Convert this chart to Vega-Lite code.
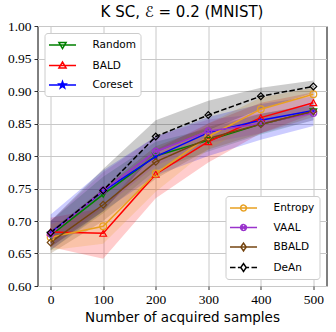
{
  "$schema": "https://vega.github.io/schema/vega-lite/v6.json",
  "width": 289,
  "height": 260,
  "autosize": "none",
  "padding": {"left": 37.5, "top": 26, "right": 9.5, "bottom": 46},
  "title": {"text": "K SC, ℰ = 0.2 (MNIST)", "font": "DejaVu Sans", "fontSize": 15, "fontWeight": "normal", "color": "black", "offset": -1},
  "config": {
    "view": {"stroke": "black", "strokeWidth": 1},
    "axis": {
      "domain": false,
      "labelFont": "Liberation Serif",
      "labelFontSize": 13.5,
      "labelColor": "black",
      "labelPadding": 3,
      "tickColor": "black",
      "tickSize": 3.5,
      "tickWidth": 0.8,
      "gridColor": "#c8c8c8",
      "gridWidth": 1,
      "titleFont": "DejaVu Sans",
      "titleFontSize": 13.5,
      "titleFontWeight": "normal",
      "titleColor": "black",
      "titlePadding": 4
    },
    "legend": {
      "title": null,
      "offset": 7,
      "padding": 4.5,
      "fillColor": "white",
      "strokeColor": "#cccccc",
      "cornerRadius": 3,
      "labelFont": "DejaVu Sans",
      "labelFontSize": 10.5,
      "labelColor": "black",
      "symbolSize": 169,
      "symbolStrokeWidth": 1.5,
      "symbolFillColor": "transparent",
      "symbolOffset": 6,
      "labelOffset": 22.5,
      "rowPadding": 5.5
    }
  },
  "data": {
    "values": [
      {"m": "Random", "x": 0, "y": 0.678, "lo": 0.655, "hi": 0.700},
      {"m": "Random", "x": 100, "y": 0.741, "lo": 0.712, "hi": 0.768},
      {"m": "Random", "x": 200, "y": 0.800, "lo": 0.778, "hi": 0.822},
      {"m": "Random", "x": 300, "y": 0.824, "lo": 0.807, "hi": 0.842},
      {"m": "Random", "x": 400, "y": 0.849, "lo": 0.833, "hi": 0.865},
      {"m": "Random", "x": 500, "y": 0.868, "lo": 0.855, "hi": 0.880},
      {"m": "BALD", "x": 0, "y": 0.683, "lo": 0.660, "hi": 0.705},
      {"m": "BALD", "x": 100, "y": 0.681, "lo": 0.642, "hi": 0.720},
      {"m": "BALD", "x": 200, "y": 0.772, "lo": 0.735, "hi": 0.810},
      {"m": "BALD", "x": 300, "y": 0.822, "lo": 0.790, "hi": 0.850},
      {"m": "BALD", "x": 400, "y": 0.859, "lo": 0.835, "hi": 0.882},
      {"m": "BALD", "x": 500, "y": 0.882, "lo": 0.865, "hi": 0.898},
      {"m": "Coreset", "x": 0, "y": 0.682, "lo": 0.655, "hi": 0.710},
      {"m": "Coreset", "x": 100, "y": 0.746, "lo": 0.715, "hi": 0.778},
      {"m": "Coreset", "x": 200, "y": 0.799, "lo": 0.770, "hi": 0.830},
      {"m": "Coreset", "x": 300, "y": 0.836, "lo": 0.800, "hi": 0.860},
      {"m": "Coreset", "x": 400, "y": 0.855, "lo": 0.825, "hi": 0.880},
      {"m": "Coreset", "x": 500, "y": 0.870, "lo": 0.846, "hi": 0.892},
      {"m": "Entropy", "x": 0, "y": 0.675, "lo": 0.655, "hi": 0.695},
      {"m": "Entropy", "x": 100, "y": 0.692, "lo": 0.665, "hi": 0.720},
      {"m": "Entropy", "x": 200, "y": 0.773, "lo": 0.745, "hi": 0.800},
      {"m": "Entropy", "x": 300, "y": 0.830, "lo": 0.810, "hi": 0.850},
      {"m": "Entropy", "x": 400, "y": 0.872, "lo": 0.855, "hi": 0.890},
      {"m": "Entropy", "x": 500, "y": 0.895, "lo": 0.885, "hi": 0.905},
      {"m": "VAAL", "x": 0, "y": 0.680, "lo": 0.660, "hi": 0.700},
      {"m": "VAAL", "x": 100, "y": 0.747, "lo": 0.720, "hi": 0.775},
      {"m": "VAAL", "x": 200, "y": 0.807, "lo": 0.785, "hi": 0.830},
      {"m": "VAAL", "x": 300, "y": 0.838, "lo": 0.820, "hi": 0.856},
      {"m": "VAAL", "x": 400, "y": 0.850, "lo": 0.835, "hi": 0.865},
      {"m": "VAAL", "x": 500, "y": 0.866, "lo": 0.855, "hi": 0.878},
      {"m": "BBALD", "x": 0, "y": 0.667, "lo": 0.650, "hi": 0.685},
      {"m": "BBALD", "x": 100, "y": 0.725, "lo": 0.700, "hi": 0.750},
      {"m": "BBALD", "x": 200, "y": 0.791, "lo": 0.765, "hi": 0.815},
      {"m": "BBALD", "x": 300, "y": 0.827, "lo": 0.810, "hi": 0.845},
      {"m": "BBALD", "x": 400, "y": 0.849, "lo": 0.835, "hi": 0.865},
      {"m": "BBALD", "x": 500, "y": 0.869, "lo": 0.860, "hi": 0.878},
      {"m": "DeAn", "x": 0, "y": 0.682, "lo": 0.660, "hi": 0.700},
      {"m": "DeAn", "x": 100, "y": 0.747, "lo": 0.715, "hi": 0.780},
      {"m": "DeAn", "x": 200, "y": 0.830, "lo": 0.805, "hi": 0.855},
      {"m": "DeAn", "x": 300, "y": 0.863, "lo": 0.840, "hi": 0.885},
      {"m": "DeAn", "x": 400, "y": 0.892, "lo": 0.872, "hi": 0.905},
      {"m": "DeAn", "x": 500, "y": 0.907, "lo": 0.897, "hi": 0.916}
    ]
  },
  "encoding": {
    "x": {"field": "x", "type": "quantitative", "scale": {"domain": [-25, 525], "nice": false, "zero": false}, "axis": {"values": [0, 100, 200, 300, 400, 500], "title": "Number of acquired samples"}},
    "y": {"field": "y", "type": "quantitative", "scale": {"domain": [0.6, 1.0], "nice": false, "zero": false}, "axis": {"values": [0.6, 0.65, 0.7, 0.75, 0.8, 0.85, 0.9, 0.95, 1.0], "format": ".2f", "title": null}}
  },
  "layer": [
    {
      "mark": {"type": "area", "opacity": 0.2},
      "encoding": {
        "y": {"field": "lo", "type": "quantitative"},
        "y2": {"field": "hi"},
        "fill": {"field": "m", "type": "nominal", "scale": {"domain": ["Random", "BALD", "Coreset", "Entropy", "VAAL", "BBALD", "DeAn"], "range": ["#008000", "#ff0000", "#0000ff", "#e8a020", "#9932cc", "#74440f", "#000000"]}, "legend": null}
      }
    },
    {
      "transform": [{"filter": {"field": "m", "oneOf": ["Random", "BALD", "Coreset"]}}],
      "mark": {"type": "line", "strokeWidth": 1.5},
      "encoding": {
        "color": {"field": "m", "type": "nominal", "scale": {"domain": ["Random", "BALD", "Coreset"], "range": ["#008000", "#ff0000", "#0000ff"]},
          "legend": {"orient": "top-left", "encode": {"symbols": {"update": {
            "shape": {"signal": "datum.value==='Random' ? 'M-2.08,0H2.08M-0.55,-0.4H0.55L0,0.55Z' : datum.value==='BALD' ? 'M-2.08,0H2.08M-0.55,0.4H0.55L0,-0.55Z' : 'M-2.08,0H2.08M0,-0.55L0.129,-0.178L0.523,-0.17L0.209,0.068L0.323,0.445L0,0.22L-0.323,0.445L-0.209,0.068L-0.523,-0.17L-0.129,-0.178Z'"},
            "fill": {"signal": "datum.value==='Coreset' ? '#0000ff' : 'transparent'"},
            "stroke": {"scale": "color", "field": "value"},
            "strokeWidth": {"value": 1.5},
            "opacity": {"value": 1},
            "fillOpacity": {"value": 1},
            "strokeOpacity": {"value": 1}
          }}}}
        }
      }
    },
    {
      "transform": [{"filter": {"field": "m", "oneOf": ["Entropy", "VAAL", "BBALD"]}}],
      "mark": {"type": "line", "strokeWidth": 1.5},
      "encoding": {
        "stroke": {"field": "m", "type": "nominal", "scale": {"domain": ["Entropy", "VAAL", "BBALD", "DeAn"], "range": ["#e8a020", "#9932cc", "#74440f", "#000000"]},
          "legend": {"orient": "bottom-right", "encode": {"symbols": {"update": {
            "shape": {"signal": "datum.value==='Entropy' ? 'M-2.08,0H2.08M0.45,0A0.45,0.45,0,1,1,-0.45,0A0.45,0.45,0,1,1,0.45,0Z' : datum.value==='VAAL' ? 'M-2.08,0H2.08M0.45,0A0.45,0.45,0,1,1,-0.45,0A0.45,0.45,0,1,1,0.45,0ZM-0.32,-0.32L0.32,0.32M-0.32,0.32L0.32,-0.32' : datum.value==='BBALD' ? 'M-2.08,0H2.08M0,-0.6L0.42,0L0,0.6L-0.42,0Z' : 'M-2.08,0H-1.23M-0.86,0H-0.42M0.42,0H0.86M1.23,0H2.08M0,-0.6L0.42,0L0,0.6L-0.42,0Z'"},
            "fill": {"value": "transparent"},
            "stroke": {"scale": "stroke", "field": "value"},
            "strokeWidth": {"value": 1.5},
            "strokeDash": {"value": [1, 0]},
            "opacity": {"value": 1},
            "strokeOpacity": {"value": 1}
          }}}}
        }
      }
    },
    {
      "transform": [{"filter": {"field": "m", "equal": "DeAn"}}],
      "mark": {"type": "line", "strokeWidth": 1.5, "strokeDash": [5.5, 2.4]},
      "encoding": {
        "stroke": {"field": "m", "type": "nominal", "scale": {"domain": ["Entropy", "VAAL", "BBALD", "DeAn"], "range": ["#e8a020", "#9932cc", "#74440f", "#000000"]},
          "legend": {"orient": "bottom-right", "encode": {"symbols": {"update": {
            "shape": {"signal": "datum.value==='Entropy' ? 'M-2.08,0H2.08M0.45,0A0.45,0.45,0,1,1,-0.45,0A0.45,0.45,0,1,1,0.45,0Z' : datum.value==='VAAL' ? 'M-2.08,0H2.08M0.45,0A0.45,0.45,0,1,1,-0.45,0A0.45,0.45,0,1,1,0.45,0ZM-0.32,-0.32L0.32,0.32M-0.32,0.32L0.32,-0.32' : datum.value==='BBALD' ? 'M-2.08,0H2.08M0,-0.6L0.42,0L0,0.6L-0.42,0Z' : 'M-2.08,0H-1.23M-0.86,0H-0.42M0.42,0H0.86M1.23,0H2.08M0,-0.6L0.42,0L0,0.6L-0.42,0Z'"},
            "fill": {"value": "transparent"},
            "stroke": {"scale": "stroke", "field": "value"},
            "strokeWidth": {"value": 1.5},
            "strokeDash": {"value": [1, 0]},
            "opacity": {"value": 1},
            "strokeOpacity": {"value": 1}
          }}}}
        }
      }
    },
    {
      "transform": [{"filter": {"field": "m", "oneOf": ["Random", "BALD"]}}],
      "mark": {"type": "point", "filled": false, "size": 45, "strokeWidth": 1.2, "opacity": 1},
      "encoding": {
        "color": {"field": "m", "type": "nominal", "scale": {"domain": ["Random", "BALD", "Coreset"], "range": ["#008000", "#ff0000", "#0000ff"]},
          "legend": {"orient": "top-left", "encode": {"symbols": {"update": {
            "shape": {"signal": "datum.value==='Random' ? 'M-2.08,0H2.08M-0.55,-0.4H0.55L0,0.55Z' : datum.value==='BALD' ? 'M-2.08,0H2.08M-0.55,0.4H0.55L0,-0.55Z' : 'M-2.08,0H2.08M0,-0.55L0.129,-0.178L0.523,-0.17L0.209,0.068L0.323,0.445L0,0.22L-0.323,0.445L-0.209,0.068L-0.523,-0.17L-0.129,-0.178Z'"},
            "fill": {"signal": "datum.value==='Coreset' ? '#0000ff' : 'transparent'"},
            "stroke": {"scale": "color", "field": "value"},
            "strokeWidth": {"value": 1.5},
            "opacity": {"value": 1},
            "fillOpacity": {"value": 1},
            "strokeOpacity": {"value": 1}
          }}}}
        },
        "shape": {"field": "m", "type": "nominal", "scale": {"domain": ["Random", "BALD", "Coreset", "Entropy", "VAAL", "BBALD", "DeAn"], "range": ["triangle-down", "triangle-up", "M0,-1L0.235,-0.324L0.951,-0.309L0.38,0.124L0.588,0.809L0,0.4L-0.588,0.809L-0.38,0.124L-0.951,-0.309L-0.235,-0.324Z", "circle", "M1,0A1,1,0,1,1,-1,0A1,1,0,1,1,1,0ZM-0.7,-0.7L0.7,0.7M-0.7,0.7L0.7,-0.7", "diamond", "diamond"]}, "legend": null}
      }
    },
    {
      "transform": [{"filter": {"field": "m", "equal": "Coreset"}}],
      "mark": {"type": "point", "filled": true, "size": 40, "opacity": 1},
      "encoding": {
        "fill": {"field": "m", "type": "nominal", "scale": {"domain": ["Random", "BALD", "Coreset", "Entropy", "VAAL", "BBALD", "DeAn"], "range": ["#008000", "#ff0000", "#0000ff", "#e8a020", "#9932cc", "#74440f", "#000000"]}, "legend": null},
        "shape": {"field": "m", "type": "nominal", "legend": null}
      }
    },
    {
      "transform": [{"filter": {"field": "m", "oneOf": ["Entropy", "VAAL", "BBALD", "DeAn"]}}],
      "mark": {"type": "point", "filled": false, "size": 45, "strokeWidth": 1.2, "opacity": 1},
      "encoding": {
        "stroke": {"field": "m", "type": "nominal", "scale": {"domain": ["Entropy", "VAAL", "BBALD", "DeAn"], "range": ["#e8a020", "#9932cc", "#74440f", "#000000"]},
          "legend": {"orient": "bottom-right", "encode": {"symbols": {"update": {
            "shape": {"signal": "datum.value==='Entropy' ? 'M-2.08,0H2.08M0.45,0A0.45,0.45,0,1,1,-0.45,0A0.45,0.45,0,1,1,0.45,0Z' : datum.value==='VAAL' ? 'M-2.08,0H2.08M0.45,0A0.45,0.45,0,1,1,-0.45,0A0.45,0.45,0,1,1,0.45,0ZM-0.32,-0.32L0.32,0.32M-0.32,0.32L0.32,-0.32' : datum.value==='BBALD' ? 'M-2.08,0H2.08M0,-0.6L0.42,0L0,0.6L-0.42,0Z' : 'M-2.08,0H-1.23M-0.86,0H-0.42M0.42,0H0.86M1.23,0H2.08M0,-0.6L0.42,0L0,0.6L-0.42,0Z'"},
            "fill": {"value": "transparent"},
            "stroke": {"scale": "stroke", "field": "value"},
            "strokeWidth": {"value": 1.5},
            "strokeDash": {"value": [1, 0]},
            "opacity": {"value": 1},
            "strokeOpacity": {"value": 1}
          }}}}
        },
        "shape": {"field": "m", "type": "nominal", "legend": null}
      }
    }
  ]
}
